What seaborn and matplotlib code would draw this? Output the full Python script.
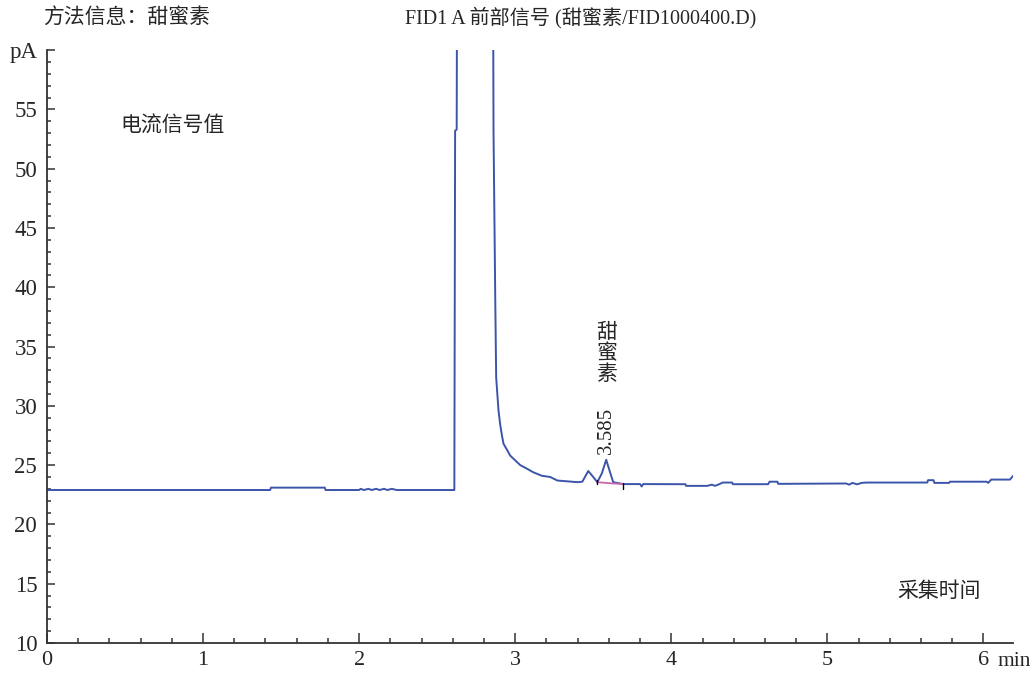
import numpy as np
import pandas as pd
import seaborn as sns
import matplotlib.pyplot as plt
from matplotlib.ticker import MultipleLocator

sns.set_theme(style="ticks")
plt.rcParams["font.family"] = ["Liberation Serif", "Noto Sans CJK SC", "DejaVu Sans"]

# retention time (min) and detector signal (pA)
times = [0.00, 1.43, 1.435, 1.78, 1.785, 2.00, 2.01, 2.03, 2.06, 2.08, 2.11, 2.13,
         2.16, 2.18, 2.21, 2.24, 2.61,
         2.615, 2.625, 2.63, 2.74, 2.855, 2.861, 2.872, 2.878, 2.893, 2.904, 2.915,
         2.925, 2.947, 2.968, 3.000, 3.032, 3.075, 3.115, 3.171, 3.224, 3.27, 3.40,
         3.43, 3.468, 3.50, 3.526, 3.555, 3.583, 3.61, 3.628, 3.692, 3.80, 3.81,
         3.82, 4.09, 4.095, 4.23, 4.26, 4.28, 4.30, 4.33, 4.39, 4.395, 4.62, 4.63,
         4.68, 4.685, 5.12, 5.14, 5.16, 5.19, 5.22, 5.25, 5.64, 5.645, 5.68, 5.685,
         5.78, 5.785, 6.02, 6.03, 6.05, 6.17, 6.19]
signal = [22.9, 22.9, 23.1, 23.1, 22.9, 22.9, 23.0, 22.9, 23.0, 22.9, 23.0, 22.9,
          23.0, 22.9, 23.0, 22.9, 22.9,
          53.2, 53.3, 80.0, 140.0, 80.0, 53.2, 39.2, 32.4, 29.6, 28.4, 27.5,
          26.8, 26.3, 25.8, 25.4, 25.0, 24.7, 24.4, 24.1, 24.0, 23.7, 23.56,
          23.6, 24.5, 24.0, 23.56, 24.3, 25.45, 24.3, 23.56, 23.4, 23.4, 23.2,
          23.4, 23.39, 23.25, 23.25, 23.35, 23.25, 23.35, 23.53, 23.53, 23.39, 23.39, 23.6,
          23.6, 23.42, 23.45, 23.35, 23.5, 23.38, 23.5, 23.53, 23.53, 23.73, 23.73, 23.5,
          23.5, 23.6, 23.6, 23.5, 23.78, 23.78, 24.1]

# integration baseline of the 3.585 peak
base_t = [3.526, 3.628, 3.692]
base_v = [23.56, 23.45, 23.40]

y_ticks = [10, 15, 20, 25, 30, 35, 40, 45, 50, 55, 60]
y_labels = ["10", "15", "20", "25", "30", "35", "40", "45", "50", "55", "pA"]
x_ticks = [0, 1, 2, 3, 4, 5, 6]
x_labels = ["0", "1", "2", "3", "4", "5", "6"]

df = pd.DataFrame({"time": times, "signal": signal})
bl = pd.DataFrame({"time": base_t, "signal": base_v})

fig = plt.figure(figsize=(10.3, 6.73), dpi=100)
ax = fig.add_axes([0.0456, 0.0446, 0.938, 0.881])

sns.lineplot(data=df, x="time", y="signal", estimator=None, sort=False,
             color="#3b55aa", linewidth=1.4, ax=ax)
sns.lineplot(data=bl, x="time", y="signal", estimator=None, sort=False,
             color="#cc66aa", linewidth=1.3, ax=ax)
# integration start/end marks
ax.plot([3.526, 3.526], [23.4, 23.75], color="black", linewidth=1.0)
ax.plot([3.692, 3.692], [23.0, 23.5], color="black", linewidth=1.0)

ax.set_xlim(0, 6.19)
ax.set_ylim(10, 60)
ax.set_xlabel("")
ax.set_ylabel("")
ax.set_xticks(x_ticks)
ax.set_xticklabels(x_labels)
ax.set_yticks(y_ticks)
ax.set_yticklabels(y_labels)
ax.xaxis.set_minor_locator(MultipleLocator(0.2))
ax.yaxis.set_minor_locator(MultipleLocator(1))
ax.tick_params(axis="x", which="major", direction="in", length=7, width=1.1,
               color="#333333", labelsize=16, pad=6)
ax.tick_params(axis="x", which="minor", direction="in", length=3.5, width=1.1,
               color="#333333")
ax.tick_params(axis="y", which="major", direction="in", length=6, width=1.1,
               color="#333333", labelsize=16.5, pad=7)
ax.tick_params(axis="y", which="minor", direction="in", length=3, width=1.1,
               color="#333333")
for side in ["top", "right"]:
    ax.spines[side].set_visible(False)
for side in ["left", "bottom"]:
    ax.spines[side].set_color("#333333")
    ax.spines[side].set_linewidth(1.3)

# texts
fig.text(43 / 1030, 1 - 18 / 673, "方法信息：甜蜜素", fontsize=15, va="center", ha="left")
fig.text(405 / 1030, 1 - 18 / 673, "FID1 A 前部信号 (甜蜜素/FID1000400.D)",
         fontsize=14.5, va="center", ha="left")
fig.text(120 / 1030, 1 - 127 / 673, "电流信号值", fontsize=15, va="center", ha="left")
fig.text(897 / 1030, 1 - 592 / 673, "采集时间", fontsize=15, va="center", ha="left")
fig.text(997 / 1030, 1 - 661 / 673, "min", fontsize=15.5, va="center", ha="left")
ax.text(3.585, 34.3, "甜\n蜜\n素", fontsize=15, ha="center", va="center",
        linespacing=1.1)
ax.text(3.585, 25.9, "3.585", fontsize=15, rotation=90, ha="center", va="bottom")

fig.savefig("out.png", dpi=100)
